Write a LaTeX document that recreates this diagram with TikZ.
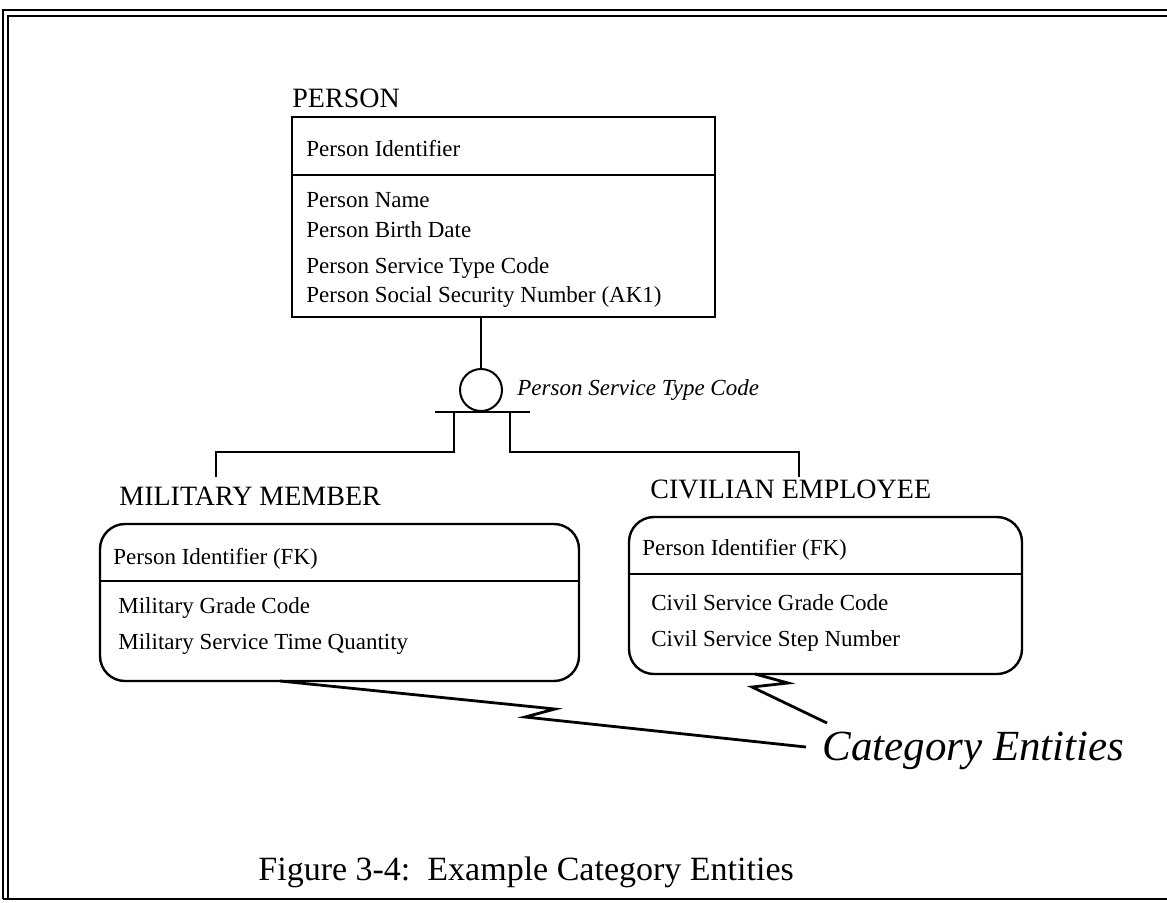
\documentclass[tikz,border=0pt]{standalone}
\usepackage{fontspec}
\setmainfont{Liberation Serif}
\begin{document}
\begin{tikzpicture}[x=0.5pt,y=-0.5pt,
  attr/.style={anchor=base west,inner sep=0pt,font=\fontsize{11.5}{13}\selectfont},
  ename/.style={anchor=base west,inner sep=0pt,font=\fontsize{14}{16}\selectfont},
  ebox/.style={draw,line width=1.2pt,inner sep=0pt,outer sep=0pt},
  link/.style={line width=1pt},
  callout/.style={line width=1.4pt,line join=miter}]
\useasboundingbox (0,0) rectangle (1167,902);

% page frame
\draw[line width=1.1pt] (3,899) -- (3,10) -- (1167,10);
\draw[line width=1pt] (8,899) -- (8,16) -- (1167,16);
\draw[line width=1.4pt] (3,899) -- (1167,899);

% PERSON entity
\node[ename] (pname) at (292,107) {PERSON};
\node[ebox,minimum width=211.5pt,minimum height=100pt] (pbox) at (503.5,217) {};
\coordinate (pdiv) at (0,175);
\draw[line width=1.2pt] (pbox.west |- pdiv) -- (pbox.east |- pdiv);
\node[attr] (p1) at (306,156) {Person Identifier};
\node[attr] (p2) at (306,207) {Person Name};
\node[attr] (p3) at (306,237) {Person Birth Date};
\node[attr] (p4) at (306,273) {Person Service Type Code};
\node[attr] (p5) at (306,302) {Person Social Security Number (AK1)};

% category discriminator
\node[draw,circle,line width=1pt,minimum size=21pt,inner sep=0pt] (disc) at (481,390) {};
\node[attr,font=\fontsize{11.5}{13}\selectfont\itshape] (dname) at (517,395) {Person Service Type Code};
\coordinate (barL) at (435,412);
\coordinate (barR) at (530,412);
\coordinate (legL) at (454,412);
\coordinate (legR) at (510,412);
\coordinate (runY) at (0,452);
\coordinate (dropY) at (0,477);
\coordinate (mdrop) at (216,0);
\coordinate (cdrop) at (799,0);
\draw[link] (pbox.south -| disc) -- (disc.north);
\draw[link] (barL) -- (barR);
\draw[link] (legL) -- (legL |- runY) -- (mdrop |- runY) -- (mdrop |- dropY);
\draw[link] (legR) -- (legR |- runY) -- (cdrop |- runY) -- (cdrop |- dropY);

% MILITARY MEMBER entity
\node[ename] (mname) at (119,505) {MILITARY MEMBER};
\node[ebox,rounded corners=12.5pt,minimum width=239.5pt,minimum height=78.5pt] (mbox) at (339.5,602.5) {};
\coordinate (mdiv) at (0,581);
\draw[line width=1.2pt] (mbox.west |- mdiv) -- (mbox.east |- mdiv);
\node[attr] (m1) at (113,564) {Person Identifier (FK)};
\node[attr] (m2) at (118,613) {Military Grade Code};
\node[attr] (m3) at (118,649) {Military Service Time Quantity};

% CIVILIAN EMPLOYEE entity
\node[ename] (cname) at (650,498) {CIVILIAN EMPLOYEE};
\node[ebox,rounded corners=12.5pt,minimum width=196.5pt,minimum height=78.5pt] (cbox) at (825.5,595.5) {};
\coordinate (cdiv) at (0,574);
\draw[line width=1.2pt] (cbox.west |- cdiv) -- (cbox.east |- cdiv);
\node[attr] (c1) at (642,555) {Person Identifier (FK)};
\node[attr] (c2) at (651,610) {Civil Service Grade Code};
\node[attr] (c3) at (651,646) {Civil Service Step Number};

% callout
\node[anchor=base west,inner sep=0pt,font=\fontsize{21.5}{24}\itshape] (cat) at (822,760) {Category Entities};
\coordinate (ms) at (280,0);
\coordinate (mz1) at (555,709);
\coordinate (mz2) at (525,717);
\coordinate (me) at (806,747);
\draw[callout] (mbox.south -| ms) -- (mz1) -- (mz2) -- (me);
\coordinate (cs) at (755,0);
\coordinate (cz1) at (788,683);
\coordinate (cz2) at (752,687);
\coordinate (ce) at (827,723);
\draw[callout] (cbox.south -| cs) -- (cz1) -- (cz2) -- (ce);

% caption
\node[anchor=base west,inner sep=0pt,font=\fontsize{17}{20}\selectfont] (cap) at (258,880) {Figure 3-4:\ \ Example Category Entities};
\end{tikzpicture}
\end{document}
